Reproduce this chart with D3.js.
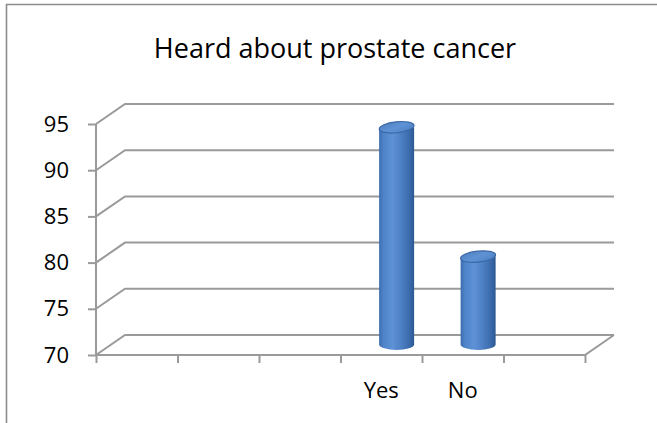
<!DOCTYPE html>
<html>
<head>
<meta charset="utf-8">
<script src="https://cdn.jsdelivr.net/npm/d3@7/dist/d3.min.js"></script>
<style>
  html, body { margin: 0; padding: 0; background: #fff; }
  svg { display: block; font-family: "Open Sans", sans-serif; }
</style>
</head>
<body>
<svg id="chart" width="657" height="423"></svg>
<script>
// Survey answers: only "Yes" and "No" carry values; the other slots are empty.
const categories = ["", "", "", "Yes", "No", ""];
const values = [null, null, null, 93.5, 79.5, null];
const yTicks = [70, 75, 80, 85, 90, 95];
const title = "Heard about prostate cancer";

const svg = d3.select("#chart");
const W = 657, H = 423;

// Plot frame (front plane) and the oblique depth offset of the back wall
const plotLeft = 96, plotRight = 585, plotBottom = 355, plotTop = 124;
const depth = { dx: 29, dy: -20 };
const gridColor = "#9a9a9a";

const y = d3.scaleLinear().domain([70, 95]).range([plotBottom, plotTop]);
const idx = d3.range(categories.length);
const x = d3.scaleBand().domain(idx).range([plotLeft, plotRight]).padding(0);
const xEdge = d3.scaleLinear().domain([0, categories.length]).range([plotLeft, plotRight]);

// Outer chart frame
svg.append("path")
  .attr("d", `M6.5,${H} L6.5,4.5 L${W},4.5`)
  .attr("fill", "none").attr("stroke", "#8c8c8c").attr("stroke-width", 1.6);

// Title
svg.append("text")
  .attr("x", 335).attr("y", 58)
  .attr("text-anchor", "middle")
  .attr("font-size", 27)
  .attr("fill", "#000")
  .text(title);

// Back-wall gridlines with their left-wall diagonals
const grid = svg.append("g").attr("fill", "none")
  .attr("stroke", gridColor).attr("stroke-width", 2);
grid.selectAll("path.grid").data(yTicks).join("path")
  .attr("class", "grid")
  .attr("d", v => `M${plotLeft},${y(v)} L${plotLeft + depth.dx},${y(v) + depth.dy} L${plotRight + depth.dx},${y(v) + depth.dy}`);

// Floor: front edge and right side edge
grid.append("path")
  .attr("d", `M${plotLeft},${y(70)} L${plotRight},${y(70)} L${plotRight + depth.dx},${y(70) + depth.dy}`);

// Y axis
const yAxis = svg.append("g")
  .attr("transform", `translate(${plotLeft},0)`)
  .call(d3.axisLeft(y).tickValues(yTicks).tickSize(8).tickPadding(19).tickFormat(d3.format("d")));
yAxis.select(".domain").attr("stroke", gridColor).attr("stroke-width", 2)
  .attr("d", `M0,${y(95)} L0,${y(70)}`);
yAxis.selectAll(".tick line").attr("stroke", gridColor).attr("stroke-width", 2);
yAxis.selectAll(".tick text").attr("font-size", 22).attr("fill", "#000")
  .attr("font-family", "Open Sans, sans-serif");

// X axis tick marks at category boundaries
const xTicks = svg.append("g")
  .attr("transform", `translate(0,${plotBottom})`)
  .call(d3.axisBottom(xEdge).tickValues(d3.range(categories.length + 1)).tickSize(8).tickFormat(""));
xTicks.select(".domain").remove();
xTicks.selectAll(".tick line").attr("stroke", gridColor).attr("stroke-width", 2);

// X axis category labels
const xLabels = svg.append("g")
  .attr("transform", `translate(0,${plotBottom})`)
  .call(d3.axisBottom(x).tickSize(0).tickPadding(27).tickFormat(i => categories[i]));
xLabels.select(".domain").remove();
xLabels.selectAll(".tick text").attr("font-size", 22).attr("fill", "#000")
  .attr("font-family", "Open Sans, sans-serif");

// Cylinder shading
const defs = svg.append("defs");
const body = defs.append("linearGradient").attr("id", "cylBody")
  .attr("x1", "0%").attr("x2", "100%").attr("y1", "0%").attr("y2", "0%");
[[0, "#3b6cae"], [0.12, "#4f83c9"], [0.38, "#5e92d6"], [0.65, "#4b7ec2"], [0.88, "#3a69a9"], [1, "#2c5892"]]
  .forEach(([o, c]) => body.append("stop").attr("offset", o).attr("stop-color", c));
const cap = defs.append("linearGradient").attr("id", "cylCap")
  .attr("x1", "0%").attr("x2", "100%").attr("y1", "0%").attr("y2", "100%");
[[0, "#4f80c0"], [0.5, "#5f92d4"], [1, "#4d80c2"]]
  .forEach(([o, c]) => cap.append("stop").attr("offset", o).attr("stop-color", c));

// Cylinders sit at mid depth
const mid = 0.53;
const rx = 17.5, ry = 5.5;
const bars = idx.filter(i => values[i] != null).map(i => ({
  cx: x(i) + x.bandwidth() / 2 + mid * depth.dx,
  yTop: y(values[i]) + mid * depth.dy,
  yBase: y(70) + mid * depth.dy
}));

const g = svg.append("g");
g.selectAll("path.body").data(bars).join("path")
  .attr("class", "body")
  .attr("d", d => `M${d.cx - rx},${d.yTop} L${d.cx - rx},${d.yBase} A${rx},${ry} 0 0 0 ${d.cx + rx},${d.yBase} L${d.cx + rx},${d.yTop} Z`)
  .attr("fill", "url(#cylBody)");
g.selectAll("ellipse.cap").data(bars).join("ellipse")
  .attr("class", "cap")
  .attr("cx", d => d.cx).attr("cy", d => d.yTop)
  .attr("rx", rx).attr("ry", ry)
  .attr("transform", d => `rotate(-6,${d.cx},${d.yTop})`)
  .attr("fill", "url(#cylCap)")
  .attr("stroke", "#3a68a6").attr("stroke-width", 1.2);
</script>
</body>
</html>
